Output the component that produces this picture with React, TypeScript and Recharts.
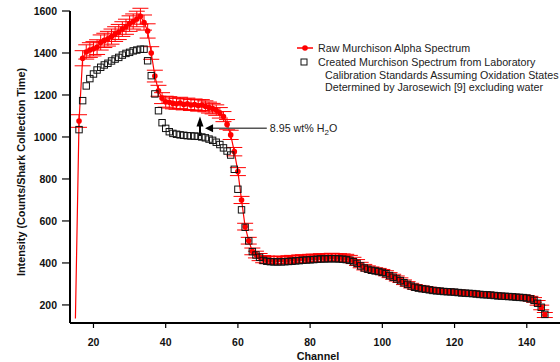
import React from 'react';
import { ComposedChart, Line, XAxis, YAxis, ErrorBar, ReferenceLine, Legend } from 'recharts';

// channel numbers, one point per channel
const channels = [
  15, 16, 17, 18, 19,
  20, 21, 22, 23, 24, 25, 26, 27, 28, 29,
  30, 31, 32, 33, 34, 35, 36, 37, 38, 39,
  40, 41, 42, 43, 44, 45, 46, 47, 48, 49,
  50, 51, 52, 53, 54, 55, 56, 57, 58, 59,
  60, 61, 62, 63, 64, 65, 66, 67, 68, 69,
  70, 71, 72, 73, 74, 75, 76, 77, 78, 79,
  80, 81, 82, 83, 84, 85, 86, 87, 88, 89,
  90, 91, 92, 93, 94, 95, 96, 97, 98, 99,
  100, 101, 102, 103, 104, 105, 106, 107, 108, 109,
  110, 111, 112, 113, 114, 115, 116, 117, 118, 119,
  120, 121, 122, 123, 124, 125, 126, 127, 128, 129,
  130, 131, 132, 133, 134, 135, 136, 137, 138, 139,
  140, 141, 142, 143, 144, 145,
];

// Raw Murchison alpha spectrum (red)
const rawCounts = [
  135, 1076, 1375, 1405, 1414,
  1420, 1428, 1450, 1460, 1468, 1478, 1490, 1500, 1514, 1525,
  1540, 1550, 1562, 1575, 1545, 1505, 1400, 1290, 1220, 1185,
  1168, 1165, 1160, 1158, 1162, 1155, 1158, 1152, 1155, 1150,
  1152, 1146, 1140, 1135, 1128, 1115, 1097, 1060, 1010, 930,
  835, 700, 573, 506, 455, 440, 428, 418, 415, 414,
  412, 414, 415, 413, 416, 418, 417, 420, 421, 420,
  423, 424, 424, 426, 425, 427, 428, 426, 427, 425,
  424, 420, 412, 402, 390, 380, 374, 369, 365, 362,
  357, 351, 342, 334, 326, 318, 308, 300, 292, 286,
  282, 279, 276, 273, 271, 268, 267, 266, 264, 263,
  262, 260, 258, 257, 256, 255, 253, 251, 250, 249,
  248, 246, 244, 243, 242, 241, 240, 238, 237, 236,
  234, 230, 224, 210, 188, 152,
];

const rawError = [
  0, 30, 36, 34, 35,
  34, 35, 36, 34, 35, 36, 35, 36, 35, 36,
  37, 36, 37, 38, 36, 34, 30, 28, 26, 26,
  26, 27, 26, 26, 27, 26, 27, 26, 26, 27,
  26, 26, 26, 25, 25, 25, 24, 23, 22, 20,
  19, 17, 16, 16, 16, 16, 17, 17, 18, 17,
  18, 17, 18, 17, 18, 18, 17, 18, 18, 17,
  18, 18, 17, 18, 18, 17, 18, 18, 17, 18,
  17, 16, 15, 14, 13, 13, 12, 12, 12, 12,
  12, 12, 12, 12, 12, 11, 11, 11, 11, 11,
  11, 11, 11, 11, 11, 11, 11, 11, 11, 11,
  11, 11, 11, 11, 11, 11, 11, 11, 11, 11,
  11, 11, 11, 11, 11, 11, 11, 11, 11, 11,
  11, 11, 11, 11, 11, 12,
];

// Created spectrum from laboratory standards (open squares)
const createdCounts = [
  null, 1035, 1173, 1243, 1278,
  1300, 1319, 1332, 1343, 1351, 1362, 1371, 1379, 1390, 1398,
  1403, 1410, 1414, 1418, 1418, 1363, 1292, 1205, 1125, 1068,
  1041, 1025, 1017, 1013, 1010, 1008, 1006, 1005, 1004, 1003,
  1000, 996, 990, 984, 975, 964, 948, 933, 914, 846,
  751, 653, 570, 505, 454, 438, 427, 412, 408, 406,
  405, 405, 405, 406, 407, 408, 410, 411, 413, 414,
  415, 416, 418, 419, 419, 420, 420, 420, 419, 418,
  416, 413, 406, 398, 386, 376, 370, 365, 362, 359,
  355, 349, 340, 332, 324, 316, 306, 298, 290, 284,
  280, 277, 275, 272, 269, 267, 266, 264, 263, 262,
  261, 259, 257, 256, 255, 254, 252, 250, 249, 248,
  247, 245, 243, 242, 241, 240, 239, 237, 236, 235,
  233, 229, 222, 208, 189, 155,
];

const xTicks = [20, 40, 60, 80, 100, 120, 140];
const yTicks = [200, 400, 600, 800, 1000, 1200, 1400, 1600];

const rawName = 'Raw Murchison Alpha Spectrum';
const createdName = [
  'Created Murchison Spectrum from Laboratory',
  'Calibration Standards Assuming Oxidation States',
  'Determined by Jarosewich [9] excluding water',
];

// arrow marking the water difference
const waterArrow = [{ x: 49.5, y: 1005 }, { x: 49.5, y: 1097 }];
const noteArrow = [{ x: 50.9, y: 1041 }, { x: 68, y: 1041 }];

const data = channels.map((ch, i) => ({
  ch,
  raw: rawCounts[i],
  err: rawError[i],
  created: createdCounts[i],
}));

const RED = '#ff0000';
const FONT = '"Liberation Sans", Arial, sans-serif';

// first raw channel has no marker, only the line going down to it
const RedDot = (props: any) => {
  const { cx, cy, payload, index } = props;
  if (cx == null || cy == null || !payload || !payload.err) return <g key={`rd-${index}`} />;
  return <circle key={`rd-${index}`} cx={cx} cy={cy} r={2.8} fill={RED} />;
};

const SquareDot = (props: any) => {
  const { cx, cy, value, index } = props;
  if (cx == null || cy == null || value == null) return <g key={`sq-${index}`} />;
  return (
    <rect
      key={`sq-${index}`}
      x={cx - 3.2}
      y={cy - 3.2}
      width={6.4}
      height={6.4}
      fill="none"
      stroke="#111"
      strokeWidth={1}
    />
  );
};

const UpArrow = (props: any) => {
  const { x1, y1, y2 } = props;
  const top = Math.min(y1, y2);
  const bottom = Math.max(y1, y2);
  return (
    <g>
      <line x1={x1} y1={bottom} x2={x1} y2={top + 8} stroke="#000" strokeWidth={2} />
      <polygon points={`${x1},${top} ${x1 - 3.5},${top + 10} ${x1 + 3.5},${top + 10}`} fill="#000" />
    </g>
  );
};

const NoteArrow = (props: any) => {
  const { x1, x2, y1 } = props;
  const left = Math.min(x1, x2);
  const right = Math.max(x1, x2);
  return (
    <g>
      <line x1={left + 7} y1={y1} x2={right} y2={y1} stroke="#555" strokeWidth={1.5} />
      <polygon points={`${left},${y1} ${left + 8},${y1 - 4} ${left + 8},${y1 + 4}`} fill="#000" />
      <text x={right + 3} y={y1} dy="0.35em" fontSize={10.7} fill="#222" fontFamily={FONT}>
        8.95 wt% H<tspan fontSize={8} dy={3}>2</tspan><tspan dy={-3}>O</tspan>
      </text>
    </g>
  );
};

const LegendBox = () => (
  <div style={{ fontFamily: FONT, fontSize: 10.7, color: '#222', lineHeight: 1, whiteSpace: 'nowrap' }}>
    <div style={{ display: 'flex', alignItems: 'center', height: 14 }}>
      <svg width={25} height={14}>
        <line x1={4} y1={7} x2={20} y2={7} stroke={RED} strokeWidth={1.5} />
        <circle cx={12} cy={7} r={2.8} fill={RED} />
      </svg>
      <span>{rawName}</span>
    </div>
    <div style={{ display: 'flex', alignItems: 'center', height: 14 }}>
      <svg width={25} height={14}>
        <rect x={8} y={4} width={6} height={6} fill="none" stroke="#111" strokeWidth={1} />
      </svg>
      <span>{createdName[0]}</span>
    </div>
    <div style={{ height: 12, display: 'flex', alignItems: 'center', paddingLeft: 32 }}>{createdName[1]}</div>
    <div style={{ height: 12, display: 'flex', alignItems: 'center', paddingLeft: 32 }}>{createdName[2]}</div>
  </div>
);

const tickStyle = { fontSize: 10.5, fontWeight: 'bold', fill: '#111', fontFamily: FONT };

export default function App() {
  return (
    <div style={{ position: 'relative', width: 560, height: 362, background: '#fff', fontFamily: FONT }}>
      <style>{'body{margin:0}'}</style>
      <ComposedChart width={560} height={362} data={data} margin={{ top: 11, right: 0, bottom: 0, left: 0 }}>
        <XAxis
          type="number"
          dataKey="ch"
          domain={[13.5, 149.2]}
          ticks={xTicks}
          allowDataOverflow
          height={39}
          tickSize={5}
          tickMargin={11}
          axisLine={{ stroke: '#000', strokeWidth: 2 }}
          tickLine={{ stroke: '#000', strokeWidth: 1.2 }}
          tick={tickStyle}
          label={{
            content: (p: any) => {
              const vb = p.viewBox;
              return (
                <text x={vb.x + vb.width / 2 + 3} y={vb.y + 37} textAnchor="middle" fontSize={10.8} fontWeight="bold" fill="#111" fontFamily={FONT}>
                  Channel
                </text>
              );
            },
          }}
        />
        <YAxis
          type="number"
          domain={[114, 1600]}
          ticks={yTicks}
          allowDataOverflow
          width={70}
          tickSize={8}
          tickMargin={5}
          axisLine={{ stroke: '#000', strokeWidth: 2 }}
          tickLine={{ stroke: '#000', strokeWidth: 1.2 }}
          tick={tickStyle}
          label={{
            content: (p: any) => {
              const vb = p.viewBox;
              const cx = vb.x + 25;
              const cy = vb.y + vb.height / 2 + 5;
              return (
                <text x={cx} y={cy} transform={`rotate(-90 ${cx} ${cy})`} textAnchor="middle" fontSize={10.8} fontWeight="bold" fill="#111" fontFamily={FONT}>
                  Intensity (Counts/Shark Collection Time)
                </text>
              );
            },
          }}
        />
        <Legend
          layout="horizontal"
          verticalAlign="middle"
          align="center"
          content={() => <LegendBox />}
          wrapperStyle={{ position: 'absolute', left: 293, top: 41, width: 267 }}
        />
        <Line
          dataKey="raw"
          stroke={RED}
          strokeWidth={1.2}
          dot={RedDot}
          activeDot={false}
          isAnimationActive={false}
        >
          <ErrorBar dataKey="err" direction="y" width={8} stroke={RED} strokeWidth={1} isAnimationActive={false} />
        </Line>
        <Line
          dataKey="created"
          stroke="none"
          dot={SquareDot}
          activeDot={false}
          isAnimationActive={false}
        />
        <ReferenceLine segment={waterArrow} shape={UpArrow} />
        <ReferenceLine segment={noteArrow} shape={NoteArrow} />
      </ComposedChart>
    </div>
  );
}
